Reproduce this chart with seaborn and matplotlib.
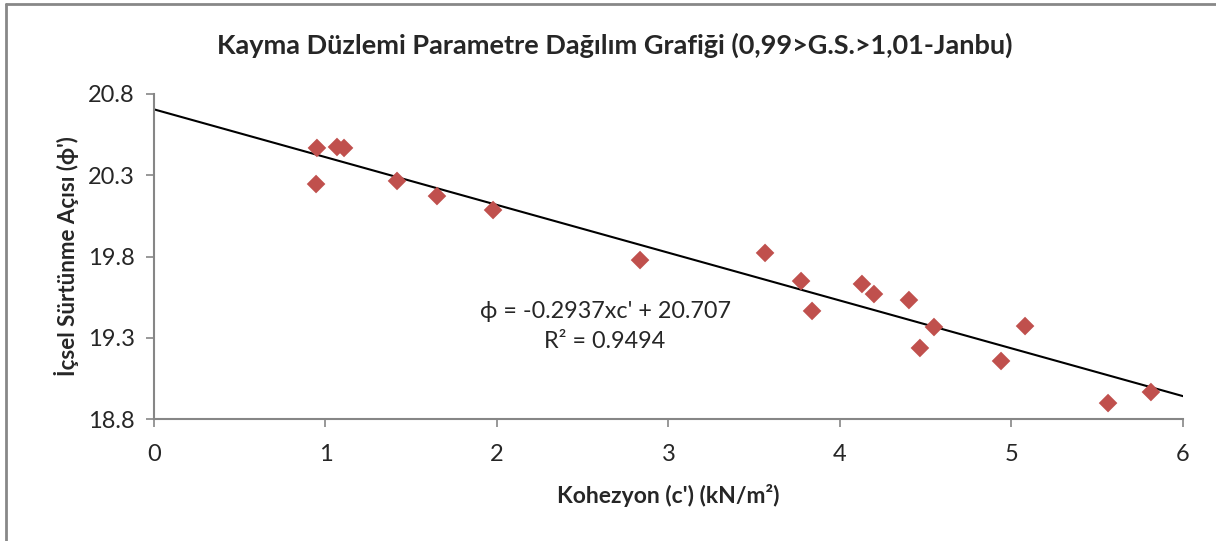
import numpy as np
import pandas as pd
import seaborn as sns
import matplotlib.pyplot as plt
from matplotlib.lines import Line2D

# data
kohezyon = [0.95, 0.945, 1.067, 1.108, 1.417, 1.65, 1.977, 2.834, 3.563, 3.773,
            3.837, 4.128, 4.198, 4.402, 4.548, 4.466, 4.939, 5.079, 5.563, 5.813]
aci = [20.468, 20.246, 20.474, 20.468, 20.265, 20.172, 20.086, 19.778, 19.822, 19.649,
       19.465, 19.631, 19.569, 19.532, 19.366, 19.237, 19.157, 19.372, 18.898, 18.966]
x_ticks = [0, 1, 2, 3, 4, 5, 6]
y_ticks = [18.8, 19.3, 19.8, 20.3, 20.8]
title = "Kayma Düzlemi Parametre Dağılım Grafiği (0,99>G.S.>1,01-Janbu)"
eq_text = "ϕ = -0.2937xc' + 20.707\nR² = 0.9494"

df = pd.DataFrame({'c': kohezyon, 'phi': aci})

sns.set_style('white')
plt.rcParams['font.family'] = ['Lato', 'DejaVu Sans']

fig = plt.figure(figsize=(12.16, 5.41), dpi=100)
ax = fig.add_axes([154/1216, 1 - 419/541, (1183 - 154)/1216, (419 - 94)/541])
ax.set_xlim(0, 6)
ax.set_ylim(18.8, 20.8)

# linear trendline across whole x range
sns.regplot(data=df, x='c', y='phi', ax=ax, scatter=False, ci=None, truncate=False,
            line_kws={'color': 'black', 'lw': 1.5})
sns.scatterplot(data=df, x='c', y='phi', ax=ax, marker='D', s=90,
                color='#C0504D', edgecolor='none', zorder=3)

ax.set_xlim(0, 6)
ax.set_ylim(18.8, 20.8)
ax.set_xticks(x_ticks)
ax.set_yticks(y_ticks)
ax.set_yticklabels([f'{v:.1f}' for v in y_ticks])

for s in ['top', 'right']:
    ax.spines[s].set_visible(False)
for s in ['left', 'bottom']:
    ax.spines[s].set_color('#868686')
    ax.spines[s].set_linewidth(1.5)
ax.tick_params(axis='both', direction='out', length=6, width=1.2, color='#868686',
               labelsize=17, pad=8, left=True, bottom=True)
ax.tick_params(axis='x', pad=12)

ax.set_xlabel("Kohezyon (c') (kN/m²)", fontsize=16.5, fontweight='bold', labelpad=14)
ax.set_ylabel("İçsel Sürtünme Açısı (ϕ')", fontsize=16, fontweight='bold', labelpad=6)
# title is centred on the whole chart area, not the plot area
fig.text(615/1216, 1 - 45/541, title, fontsize=19.5, fontweight='bold',
         ha='center', va='center')

ax.text(2.63, 19.37, eq_text, fontsize=16.8, ha='center', va='center', linespacing=1.55)

# chart frame (only top and left show)
fig.add_artist(Line2D([6/1216, 1], [1 - 4/541, 1 - 4/541], color='#888888', lw=2))
fig.add_artist(Line2D([6/1216, 6/1216], [0, 1 - 4/541], color='#888888', lw=2))

fig.savefig('out.png', dpi=100)
